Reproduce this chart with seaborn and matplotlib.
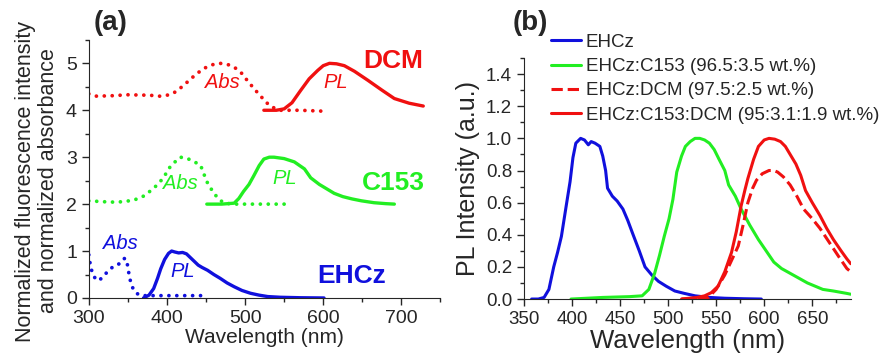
import numpy as np
import pandas as pd
import seaborn as sns
import matplotlib.pyplot as plt
from matplotlib.ticker import MultipleLocator

sns.set_style('ticks')
plt.rcParams['font.family'] = ['Liberation Sans', 'DejaVu Sans']

RED = '#f01010'
GREEN = '#22ee22'
BLUE = '#1010dd'

# ---- panel (a): normalized absorption / PL, stacked with offsets
offsets = {'EHCz': 0, 'C153': 2, 'DCM': 4}

ehcz_abs_wl = [300, 302, 305, 309, 313, 318, 325, 332, 338, 342, 346, 349, 351, 354, 358, 363, 370, 400, 453]
ehcz_abs = [0.92, 0.70, 0.50, 0.40, 0.37, 0.45, 0.58, 0.68, 0.72, 0.76, 0.85, 0.75, 0.55, 0.30, 0.15, 0.08, 0.05, 0.05, 0.05]
ehcz_pl_wl = [370, 377, 383, 388, 392, 397, 402, 406, 410, 415, 420, 425, 430, 435, 440, 445, 452, 460, 468, 477, 486, 496, 507, 518, 529, 545, 571, 601]
ehcz_pl = [0.0, 0.06, 0.20, 0.42, 0.62, 0.82, 0.95, 1.0, 0.98, 0.96, 0.97, 0.94, 0.86, 0.78, 0.70, 0.65, 0.59, 0.50, 0.42, 0.32, 0.24, 0.16, 0.10, 0.06, 0.03, 0.015, 0.005, 0.0]

c153_abs_wl = [300, 320, 336, 357, 370, 378, 387, 395, 405, 417, 425, 433, 443, 451, 460, 467, 473, 486, 520, 552]
c153_abs = [0.07, 0.05, 0.04, 0.08, 0.17, 0.27, 0.40, 0.55, 0.82, 1.0, 0.98, 0.92, 0.83, 0.48, 0.23, 0.10, 0.02, 0.0, 0.0, 0.0]
c153_pl_wl = [451, 470, 486, 492, 498, 505, 511, 518, 524, 531, 537, 550, 563, 576, 584, 595, 605, 614, 625, 637, 649, 665, 680, 691]
c153_pl = [0.0, 0.0, 0.02, 0.12, 0.27, 0.42, 0.60, 0.82, 0.96, 1.0, 1.0, 0.97, 0.90, 0.75, 0.56, 0.42, 0.32, 0.23, 0.16, 0.11, 0.07, 0.03, 0.01, 0.0]

dcm_abs_wl = [300, 310, 330, 350, 378, 391, 400, 408, 417, 426, 436, 447, 458, 468, 477, 486, 495, 503, 512, 520, 527, 533, 540, 546, 570, 601]
dcm_abs = [0.35, 0.30, 0.31, 0.33, 0.32, 0.30, 0.32, 0.36, 0.47, 0.60, 0.75, 0.89, 0.97, 1.0, 0.98, 0.92, 0.80, 0.63, 0.45, 0.30, 0.17, 0.08, 0.03, 0.0, 0.0, -0.02]
dcm_pl_wl = [524, 540, 550, 560, 571, 582, 593, 600, 608, 617, 627, 640, 657, 675, 691, 710, 728]
dcm_pl = [0.0, 0.0, 0.03, 0.16, 0.42, 0.67, 0.85, 0.95, 1.0, 0.99, 0.95, 0.83, 0.64, 0.43, 0.25, 0.15, 0.09]

# ---- panel (b): PL of films
b_ehcz_wl = [358, 365, 371, 376, 381, 385, 389, 394, 398, 401, 404, 409, 413, 417, 420, 424, 429, 432, 435, 437, 442, 447, 453, 458, 463, 470, 476, 483, 490, 498, 507, 517, 528, 543, 559, 578, 597]
b_ehcz = [0.0, 0.0, 0.01, 0.06, 0.20, 0.29, 0.39, 0.58, 0.73, 0.88, 0.97, 1.0, 0.99, 0.96, 0.98, 0.97, 0.95, 0.89, 0.80, 0.69, 0.64, 0.61, 0.56, 0.49, 0.41, 0.30, 0.20, 0.15, 0.11, 0.08, 0.05, 0.035, 0.02, 0.01, 0.005, 0.002, 0.0]
b_c153_wl = [399, 432, 460, 473, 480, 486, 491, 496, 501, 505, 509, 514, 518, 523, 528, 533, 538, 543, 548, 553, 559, 563, 570, 576, 585, 594, 602, 610, 618, 627, 636, 645, 653, 661, 672, 686, 690]
b_c153 = [0.0, 0.01, 0.015, 0.02, 0.06, 0.16, 0.27, 0.39, 0.50, 0.62, 0.79, 0.89, 0.95, 0.98, 1.0, 1.0, 0.99, 0.97, 0.93, 0.87, 0.80, 0.71, 0.64, 0.56, 0.46, 0.37, 0.30, 0.23, 0.19, 0.16, 0.13, 0.10, 0.08, 0.06, 0.05, 0.035, 0.03]
b_dcm_wl = [514, 530, 542, 550, 559, 566, 573, 578, 583, 588, 592, 598, 605, 610, 614, 620, 627, 634, 641, 650, 658, 668, 678, 686, 690]
b_dcm = [0.0, 0.003, 0.01, 0.06, 0.15, 0.24, 0.33, 0.46, 0.60, 0.69, 0.74, 0.78, 0.80, 0.80, 0.79, 0.76, 0.71, 0.64, 0.56, 0.50, 0.44, 0.35, 0.26, 0.19, 0.17]
b_mix_wl = [514, 530, 538, 545, 552, 559, 566, 571, 576, 580, 583, 589, 594, 600, 605, 611, 617, 622, 627, 633, 638, 643, 650, 658, 665, 672, 680, 686, 690]
b_mix = [0.0, 0.01, 0.02, 0.04, 0.08, 0.17, 0.29, 0.42, 0.58, 0.68, 0.75, 0.87, 0.95, 0.99, 1.0, 0.995, 0.98, 0.95, 0.90, 0.84, 0.77, 0.675, 0.60, 0.52, 0.44, 0.37, 0.30, 0.25, 0.22]

legend_labels = ['EHCz', 'EHCz:C153 (96.5:3.5 wt.%)', 'EHCz:DCM (97.5:2.5 wt.%)',
                 'EHCz:C153:DCM (95:3.1:1.9 wt.%)']

fig = plt.figure(figsize=(8.88, 3.56), dpi=100)
ax1 = fig.add_axes([0.100, 0.163, 0.396, 0.725])
ax2 = fig.add_axes([0.590, 0.160, 0.368, 0.677])

# round dots, ~8 px apart
dot_kw = dict(linestyle=(0, (0.01, 2.1)), linewidth=2.7, dash_capstyle='round')
sol_kw = dict(linewidth=2.4)

for name, col, abs_wl, abs_v, pl_wl, pl_v in [
        ('EHCz', BLUE, ehcz_abs_wl, ehcz_abs, ehcz_pl_wl, ehcz_pl),
        ('C153', GREEN, c153_abs_wl, c153_abs, c153_pl_wl, c153_pl),
        ('DCM', RED, dcm_abs_wl, dcm_abs, dcm_pl_wl, dcm_pl)]:
    off = offsets[name]
    sns.lineplot(x=abs_wl, y=np.array(abs_v) + off, color=col, ax=ax1, **dot_kw)
    sns.lineplot(x=pl_wl, y=np.array(pl_v) + off, color=col, ax=ax1, **sol_kw)

# labels in panel (a)
ax1.text(690, 5.05, 'DCM', color=RED, fontsize=19, fontweight='bold', ha='center', va='center')
ax1.text(690, 2.45, 'C153', color=GREEN, fontsize=19, fontweight='bold', ha='center', va='center')
ax1.text(636, 0.47, 'EHCz', color=BLUE, fontsize=19, fontweight='bold', ha='center', va='center')
for x, y, s, col in [(471, 4.6, 'Abs', RED), (616, 4.6, 'PL', RED),
                     (417, 2.45, 'Abs', GREEN), (551, 2.55, 'PL', GREEN),
                     (340, 1.17, 'Abs', BLUE), (420, 0.57, 'PL', BLUE)]:
    ax1.text(x, y, s, color=col, fontsize=14.5, style='italic', ha='center', va='center')

ax1.set_xlim(300, 750)
ax1.set_ylim(0, 5.5)
ax1.set_xticks([300, 400, 500, 600, 700])
ax1.xaxis.set_minor_locator(MultipleLocator(50))
ax1.yaxis.set_major_locator(MultipleLocator(1))
ax1.yaxis.set_minor_locator(MultipleLocator(0.5))
ax1.tick_params(labelsize=14, length=5, width=1)
ax1.tick_params(which='minor', length=3, width=1)
ax1.set_xlabel('Wavelength (nm)', fontsize=15, labelpad=1)
ax1.set_ylabel('Normalized fluorescence intensity\nand normalized absorbance', fontsize=15.5,
               linespacing=1.15)
ax1.yaxis.set_label_coords(-0.085, 0.453)
sns.despine(ax=ax1)

# panel (b)
sns.lineplot(x=b_ehcz_wl, y=b_ehcz, color=BLUE, linewidth=2.2, ax=ax2, label=legend_labels[0])
sns.lineplot(x=b_c153_wl, y=b_c153, color=GREEN, linewidth=2.2, ax=ax2, label=legend_labels[1])
sns.lineplot(x=b_dcm_wl, y=b_dcm, color=RED, linewidth=2.2, linestyle='--', ax=ax2, label=legend_labels[2])
sns.lineplot(x=b_mix_wl, y=b_mix, color=RED, linewidth=2.2, ax=ax2, label=legend_labels[3])

ax2.set_xlim(350, 690)
ax2.set_ylim(0, 1.5)
ax2.xaxis.set_major_locator(MultipleLocator(50))
ax2.xaxis.set_minor_locator(MultipleLocator(25))
ax2.set_yticks([0, 0.2, 0.4, 0.6, 0.8, 1.0, 1.2, 1.4])
ax2.yaxis.set_minor_locator(MultipleLocator(0.1))
ax2.yaxis.set_major_formatter(plt.FormatStrFormatter('%.1f'))
ax2.tick_params(labelsize=13.5, length=5, width=1)
ax2.tick_params(which='minor', length=3, width=1)
ax2.set_xlabel('Wavelength (nm)', fontsize=18.5, labelpad=1)
ax2.set_ylabel('PL Intensity (a.u.)', fontsize=18, labelpad=4)
sns.despine(ax=ax2)
ax2.legend(loc='upper left', bbox_to_anchor=(0.621, 0.905), bbox_transform=fig.transFigure,
           frameon=False, fontsize=13.5, handlelength=1.55, handletextpad=0.28,
           labelspacing=0.38, borderpad=0, borderaxespad=0)

fig.text(0.125, 0.935, '(a)', fontsize=20, fontweight='bold', ha='center', va='center')
fig.text(0.597, 0.935, '(b)', fontsize=20, fontweight='bold', ha='center', va='center')

fig.savefig('out.png', dpi=100)
